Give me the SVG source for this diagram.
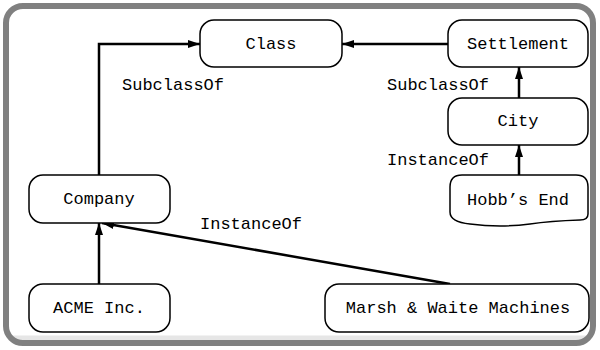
<svg xmlns="http://www.w3.org/2000/svg" width="600" height="350" viewBox="0 0 600 350">
<defs>
<style>
.node{fill:#fff;stroke:#000;stroke-width:1.5}
.t{font-family:"Liberation Mono","DejaVu Sans Mono",monospace;font-size:17px;fill:#000}
.c{text-anchor:middle;dominant-baseline:central}
.e{fill:none;stroke:#000;stroke-width:2.5}
</style>
<marker id="ah" viewBox="0 0 12 8" refX="12" refY="4" markerWidth="12" markerHeight="8" markerUnits="userSpaceOnUse" orient="auto">
<path d="M0,0 L12,4 L0,8 Z" fill="#000"/>
</marker>
</defs>
<rect x="0" y="0" width="600" height="350" fill="#fff"/>
<g id="frame">
<path d="M10,338 L590,338" stroke="#e6e6e6" stroke-width="5" fill="none"/>
<rect x="6" y="6" width="587" height="337" rx="17" fill="none" stroke="#808080" stroke-width="6"/>
</g>
<g id="connectors">
<path class="e" d="M99,175 L99,44 L200,44" marker-end="url(#ah)"/>
<path class="e" d="M448,44 L342,44" marker-end="url(#ah)"/>
<path class="e" d="M519,98 L519,67" marker-end="url(#ah)"/>
<path class="e" d="M519,175 L519,145" marker-end="url(#ah)"/>
<path class="e" d="M99,284 L99,223" marker-end="url(#ah)"/>
<path class="e" d="M450,284 L102,223" marker-end="url(#ah)"/>
<text class="t" x="122" y="90">SubclassOf</text>
<text class="t" x="387" y="90">SubclassOf</text>
<text class="t" x="387" y="165">InstanceOf</text>
<text class="t" x="200" y="229">InstanceOf</text>
</g>
<g id="class">
<rect class="node" x="200" y="20" width="142" height="47" rx="14"/>
<text class="t c" x="271" y="44">Class</text>
</g>
<g id="settlement">
<rect class="node" x="448" y="20" width="140" height="47" rx="14"/>
<text class="t c" x="518" y="44">Settlement</text>
</g>
<g id="city">
<rect class="node" x="448" y="98" width="140" height="47" rx="14"/>
<text class="t c" x="518" y="121">City</text>
</g>
<g id="hobbs-end">
<path class="node" d="M462,175 L576,175 Q588,175 588,187 L588,214 Q588,220 580,220 Q550,221 530,224 Q500,228 470,224 Q450,222 450,212 L450,187 Q450,175 462,175 Z"/>
<text class="t c" x="518" y="200">Hobb’s End</text>
</g>
<g id="company">
<rect class="node" x="29" y="175" width="141" height="48" rx="14"/>
<text class="t c" x="99" y="199">Company</text>
</g>
<g id="acme">
<rect class="node" x="29" y="284" width="141" height="48" rx="14"/>
<text class="t c" x="99" y="308">ACME Inc.</text>
</g>
<g id="marsh">
<rect class="node" x="325" y="284" width="264" height="48" rx="14"/>
<text class="t c" x="458" y="308">Marsh &amp; Waite Machines</text>
</g>
</svg>
